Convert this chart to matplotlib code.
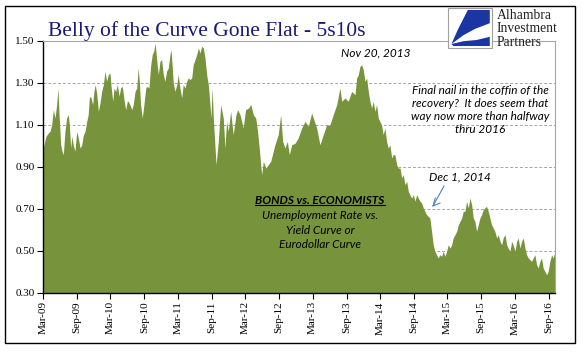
import matplotlib
matplotlib.use("Agg")
import matplotlib.pyplot as plt
import numpy as np
import pandas as pd
from matplotlib.patches import Rectangle, Polygon
from matplotlib.lines import Line2D

# ---------------- data ----------------
start_date = "2009-03-01"
# days since start_date
day_offsets = [
    0, 5, 16, 29, 38, 47, 56, 65, 74, 81, 87, 96, 101, 110, 119, 128, 137, 143, 150, 156,
    164, 173, 183, 191, 201, 210, 218, 228, 237, 245, 251, 258, 269, 276, 283, 291, 300, 309, 318, 327,
    336, 345, 354, 363, 368, 378, 385, 394, 403, 412, 421, 430, 439, 448, 457,
    462, 471, 481, 489, 499, 508, 516, 522, 529, 538, 547, 557, 565, 574, 584, 592, 600, 607, 612, 619,
    625, 634, 643, 652, 661, 670, 679, 688, 694, 701, 706, 715, 725, 733, 742, 752, 760, 770, 779, 787,
    797, 806, 814, 824, 833, 842, 851, 860, 869, 878, 887, 896, 905, 910, 917,
    923, 938, 950, 963, 977, 986, 995, 1004, 1017, 1031, 1046, 1055, 1068, 1077, 1085, 1098, 1113, 1126, 1140, 1153,
    1163, 1172, 1185, 1194, 1208, 1221, 1234, 1248, 1257, 1275, 1288, 1299, 1311, 1324, 1335, 1348, 1366,
    1383, 1402, 1420, 1438, 1456, 1465, 1483, 1501, 1519, 1537, 1555, 1573, 1592, 1609, 1619, 1637, 1654, 1673, 1691, 1700,
    1709, 1718, 1727, 1736, 1745, 1754, 1763, 1772, 1781, 1790, 1799, 1808, 1817, 1826,
    1835, 1844, 1853, 1862, 1871, 1880, 1890, 1898, 1907, 1917, 1925, 1935, 1944, 1952, 1962, 1971, 1980, 1989, 1998, 2007,
    2016, 2025, 2034, 2043, 2052, 2061, 2079, 2097, 2106, 2115, 2124, 2133, 2142, 2151, 2161, 2169, 2178, 2188, 2196, 2206,
    2215, 2223, 2233, 2242, 2251, 2260, 2269, 2278, 2287,
    2296, 2305, 2314, 2323, 2332, 2341, 2350, 2359, 2368, 2377, 2386, 2395, 2404, 2413, 2422, 2431, 2440, 2449, 2459, 2467,
    2477, 2486, 2494, 2504, 2513, 2521, 2531, 2540, 2548, 2558, 2567, 2575, 2585, 2594, 2603, 2612, 2621, 2630, 2648, 2657,
    2666, 2675, 2684, 2693, 2702, 2711, 2720, 2730, 2738, 2747, 2757, 2765, 2775,
]
spread_5s10s = [
    0.99, 1.006, 1.046, 1.062, 1.07, 1.10, 1.173, 1.133, 1.197, 1.276, 1.149, 1.006, 0.982, 0.959, 1.07, 1.133, 1.149, 1.10, 0.99, 1.046,
    1.006, 0.975, 1.07, 1.04, 0.99, 1.006, 1.05, 1.07, 1.117, 1.149, 1.229, 1.237, 1.197, 1.26, 1.292, 1.252, 1.165, 1.205, 1.26, 1.292,
    1.356, 1.308, 1.34, 1.348, 1.292, 1.213, 1.276, 1.26, 1.292, 1.237, 1.276, 1.284, 1.22, 1.173, 1.213,
    1.213, 1.197, 1.173, 1.197, 1.26, 1.276, 1.371, 1.308, 1.197, 1.133, 1.197, 1.276, 1.284, 1.276, 1.387, 1.435, 1.451, 1.49, 1.451, 1.387,
    1.34, 1.403, 1.411, 1.34, 1.308, 1.356, 1.371, 1.435, 1.459, 1.371, 1.30, 1.26, 1.292, 1.34, 1.276, 1.229, 1.292, 1.276, 1.308, 1.324,
    1.316, 1.324, 1.387, 1.411, 1.435, 1.467, 1.443, 1.475, 1.467, 1.419, 1.34, 1.292, 1.197, 1.133, 1.276,
    1.133, 0.911, 1.02, 1.197, 1.133, 0.99, 1.117, 1.07, 1.165, 1.054, 1.149, 1.173, 1.149, 1.117, 1.086, 1.173, 1.18, 1.197, 1.149, 1.133,
    1.07, 0.99, 0.863, 0.927, 0.895, 0.911, 0.927, 0.975, 1.006, 1.054, 1.149, 1.022, 0.99, 1.022, 0.959, 1.006, 1.013,
    1.038, 1.086, 1.117, 1.094, 1.157, 1.133, 1.086, 1.006, 1.054, 1.10, 1.10, 1.149, 1.197, 1.276, 1.213, 1.229, 1.213, 1.26, 1.244, 1.324,
    1.34, 1.379, 1.387, 1.363, 1.308, 1.324, 1.26, 1.213, 1.181, 1.213, 1.165, 1.197, 1.133, 1.117,
    1.10, 1.054, 1.086, 1.022, 0.99, 1.006, 0.943, 0.959, 0.959, 0.911, 0.895, 0.895, 0.848, 0.864, 0.816, 0.832, 0.784, 0.768, 0.752, 0.768,
    0.737, 0.768, 0.752, 0.737, 0.729, 0.705, 0.673, 0.657, 0.594, 0.530, 0.499, 0.482, 0.467, 0.482, 0.475, 0.499, 0.475, 0.499, 0.53, 0.514,
    0.53, 0.562, 0.578, 0.594, 0.625, 0.641, 0.657, 0.689, 0.689,
    0.737, 0.705, 0.752, 0.721, 0.657, 0.641, 0.594, 0.625, 0.657, 0.673, 0.697, 0.705, 0.713, 0.689, 0.657, 0.625, 0.610, 0.594, 0.562, 0.578,
    0.546, 0.53, 0.562, 0.578, 0.53, 0.514, 0.499, 0.546, 0.53, 0.499, 0.546, 0.562, 0.514, 0.546, 0.562, 0.514, 0.482, 0.467, 0.451, 0.467,
    0.482, 0.435, 0.419, 0.451, 0.467, 0.419, 0.403, 0.387, 0.403, 0.451, 0.482, 0.467, 0.499,
]
x_tick_labels = ["Mar-09", "Sep-09", "Mar-10", "Sep-10", "Mar-11", "Sep-11", "Mar-12", "Sep-12",
                 "Mar-13", "Sep-13", "Mar-14", "Sep-14", "Mar-15", "Sep-15", "Mar-16", "Sep-16"]
y_ticks = [0.30, 0.50, 0.70, 0.90, 1.10, 1.30, 1.50]

title = "Belly of the Curve Gone Flat - 5s10s"
note_peak = "Nov 20, 2013"
note_dec = "Dec 1, 2014"
note_final = "Final nail in the coffin of the\nrecovery?  It does seem that\nway now more than halfway\nthru 2016"
note_bonds_head = "BONDS vs. ECONOMISTS"
note_bonds_body = ["Unemployment Rate vs.", "Yield Curve or", "Eurodollar Curve"]
logo_lines = ["Alhambra", "Investment", "Partners"]

# ---------------- figure ----------------
W, H = 583, 361
fig = plt.figure(figsize=(W / 100, H / 100), dpi=100)
fig.patch.set_facecolor("white")

def fx(px):
    return px / W

def fy(py):
    return 1 - py / H

dates = pd.Timestamp(start_date) + pd.to_timedelta(day_offsets, unit="D")
tick_dates = pd.date_range(start_date, periods=len(x_tick_labels), freq="6MS")

ax = fig.add_axes([fx(43), fy(293), fx(555) - fx(43), fy(41) - fy(293)])
ax.fill_between(dates, spread_5s10s, 0.30, color="#77933C", lw=0, zorder=2)
ax.set_xlim(dates[0], dates[-1])
ax.set_ylim(0.30, 1.50)
ax.set_axisbelow(True)
ax.set_yticks(y_ticks)
ax.set_yticklabels([f"{v:.2f}" for v in y_ticks], fontfamily="Liberation Serif", fontsize=8)
ax.set_xticks(tick_dates)
ax.set_xticklabels(x_tick_labels, rotation=90, fontfamily="Liberation Serif", fontsize=8)
ax.yaxis.grid(True, linestyle=(0, (3, 2)), color="#A6A6A6", lw=0.7)
ax.tick_params(axis="both", direction="out", length=4, width=0.8, color="black", pad=2)
for s in ("left", "bottom"):
    ax.spines[s].set_color("black")
    ax.spines[s].set_linewidth(1.0)
for s in ("top", "right"):
    ax.spines[s].set_color("#A6A6A6")
    ax.spines[s].set_linewidth(0.8)

# outer frame
fig.add_artist(Rectangle((fx(5), fy(343)), fx(575) - fx(5), fy(6) - fy(343),
                         transform=fig.transFigure, fill=False, ec="black", lw=1.0))

# title
fig.text(fx(48), fy(36), title, fontfamily="Liberation Serif", fontsize=15.5,
         color="#1A1A78", ha="left", va="baseline")

# logo
box_x0, box_x1, box_y0, box_y1 = 448, 492, 8, 48
fig.add_artist(Rectangle((fx(box_x0), fy(box_y1)), fx(box_x1) - fx(box_x0), fy(box_y0) - fy(box_y1),
                         transform=fig.transFigure, fc="white", ec="#A0A0A0", lw=0.8, zorder=5))

def lp(u, v):
    return (fx(box_x0 + u * (box_x1 - box_x0)), fy(box_y1 - v * (box_y1 - box_y0)))

upper = [lp(0.45, 0.95), lp(0.95, 0.95), lp(0.95, 0.62), lp(0.62, 0.48), lp(0.35, 0.32),
         lp(0.08, 0.10), lp(0.22, 0.45)]
lower = [lp(0.08, 0.10), lp(0.35, 0.17), lp(0.65, 0.20), lp(0.95, 0.28), lp(0.95, 0.05), lp(0.12, 0.05)]
for poly in (upper, lower):
    fig.add_artist(Polygon(poly, closed=True, transform=fig.transFigure, fc="#1B35A3", ec="none", zorder=6))
for i, line in enumerate(logo_lines):
    fig.text(fx(497), fy(19 + 13.5 * i), line, fontfamily="Liberation Serif", fontsize=9.8,
             color="#222222", ha="left", va="baseline", zorder=6)

# annotations
it = dict(fontfamily="Lato", style="italic", fontsize=8.5, color="black")
fig.text(fx(376), fy(53), note_peak, ha="center", va="center", **it)
fig.text(fx(480), fy(110), note_final, ha="center", va="center", linespacing=1.25, **it)
fig.text(fx(460), fy(177), note_dec, ha="center", va="center", **it)
fig.add_artist(Line2D([fx(444), fx(433)], [fy(186), fy(206)], transform=fig.transFigure,
                      color="#4F81BD", lw=0.8))
fig.add_artist(Line2D([fx(433) + 0.004, fx(433), fx(433) + 0.012], [fy(206) + 0.022, fy(206), fy(206) + 0.008],
                      transform=fig.transFigure, color="#4F81BD", lw=0.8))

head = fig.text(fx(320), fy(200), note_bonds_head, ha="center", va="center", fontweight="bold", **it)
for i, line in enumerate(note_bonds_body):
    fig.text(fx(320), fy(215.5 + 14.5 * i), line, ha="center", va="center", **it)

fig.canvas.draw()
bb = head.get_window_extent(renderer=fig.canvas.get_renderer())
fig.add_artist(Line2D([bb.x0 / W, bb.x1 / W], [(bb.y0 + 0.5) / H, (bb.y0 + 0.5) / H],
                      transform=fig.transFigure, color="black", lw=0.8))

fig.savefig("out.png", dpi=100)
